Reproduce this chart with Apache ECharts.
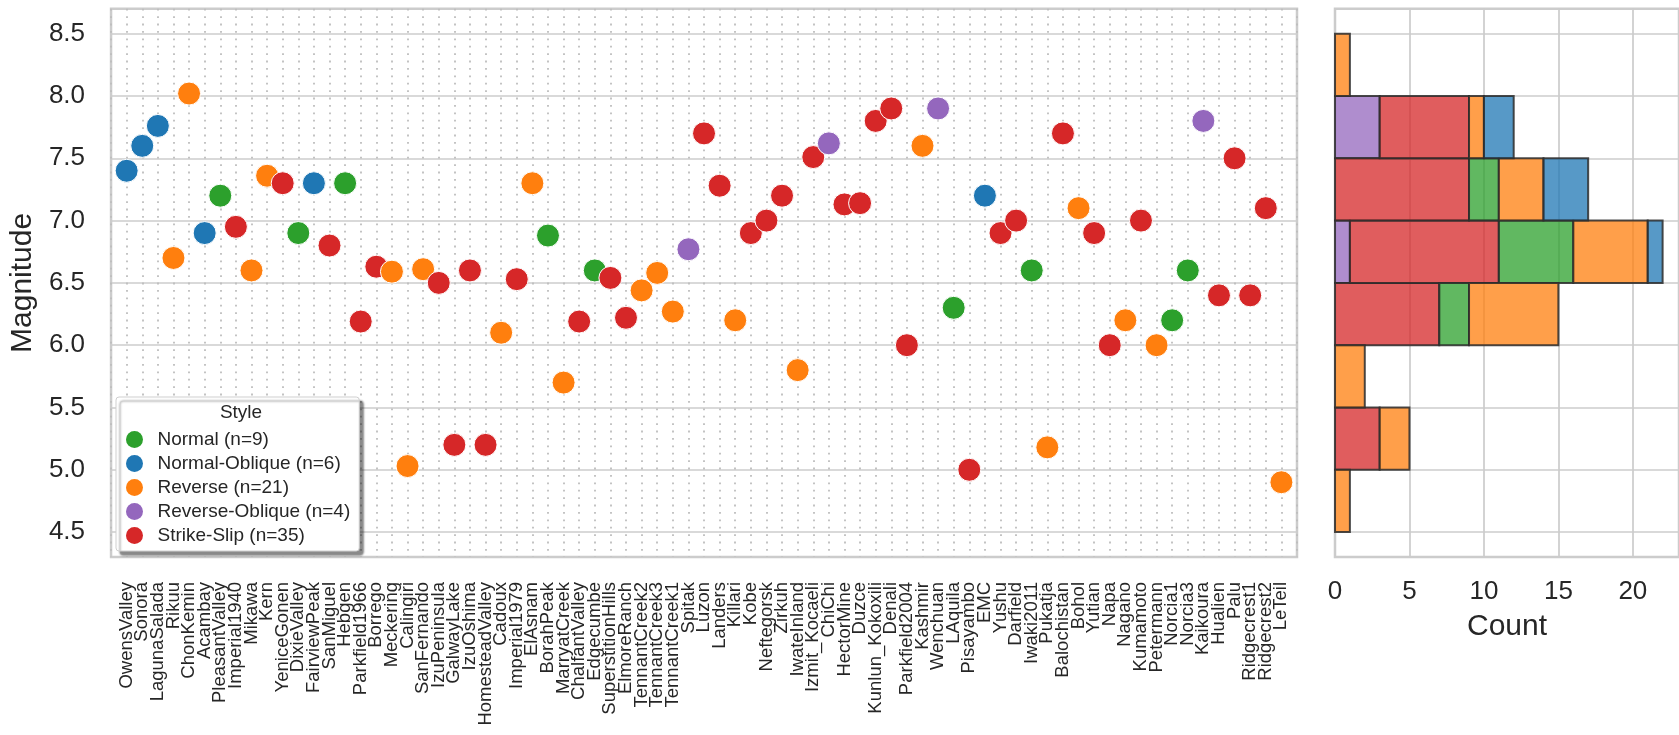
<!DOCTYPE html>
<html>
<head>
<meta charset="utf-8">
<script src="https://cdn.jsdelivr.net/npm/echarts@6/dist/echarts.min.js"></script>
<style>
  html, body { margin: 0; padding: 0; background: #ffffff; }
  #chart { width: 1679px; height: 735px; }
</style>
</head>
<body>
<div id="chart"></div>
<script>
// Earthquake events, in plotting order along the x axis
const quakeNames = [
  'OwensValley', 'Sonora', 'LagunaSalada', 'Rikuu', 'ChonKemin', 'Acambay', 'PleasantValley',
  'Imperial1940', 'Mikawa', 'Kern', 'YeniceGonen', 'DixieValley', 'FairviewPeak', 'SanMiguel',
  'Hebgen', 'Parkfield1966', 'Borrego', 'Meckering', 'Calingiri', 'SanFernando', 'IzuPeninsula',
  'GalwayLake', 'IzuOshima', 'HomesteadValley', 'Cadoux', 'Imperial1979', 'ElAsnam', 'BorahPeak',
  'MarryatCreek', 'ChalfantValley', 'Edgecumbe', 'SuperstitionHills', 'ElmoreRanch',
  'TennantCreek2', 'TennantCreek3', 'TennantCreek1', 'Spitak', 'Luzon', 'Landers', 'Killari',
  'Kobe', 'Neftegorsk', 'Zirkuh', 'IwateInland', 'Izmit_Kocaeli', 'ChiChi', 'HectorMine', 'Duzce',
  'Kunlun_Kokoxili', 'Denali', 'Parkfield2004', 'Kashmir', 'Wenchuan', 'LAquila', 'Pisayambo',
  'EMC', 'Yushu', 'Darfield', 'Iwaki2011', 'Pukatja', 'Balochistan', 'Bohol', 'Yutian', 'Napa',
  'Nagano', 'Kumamoto', 'Petermann', 'Norcia1', 'Norcia3', 'Kaikoura', 'Hualien', 'Palu',
  'Ridgecrest1', 'Ridgecrest2', 'LeTeil'
];

// Moment magnitude of each event
const magnitudes = [
  7.40, 7.60, 7.76, 6.70, 8.02, 6.90, 7.20,
  6.95, 6.60, 7.36, 7.30, 6.90, 7.30, 6.80,
  7.30, 6.19, 6.63, 6.59, 5.03, 6.61, 6.50,
  5.20, 6.60, 5.20, 6.10, 6.53, 7.30, 6.88,
  5.70, 6.19, 6.60, 6.54, 6.22,
  6.44, 6.58, 6.27, 6.77, 7.70, 7.28, 6.20,
  6.90, 7.00, 7.20, 5.80, 7.51, 7.62, 7.13, 7.14,
  7.80, 7.90, 6.00, 7.60, 7.90, 6.30, 5.00,
  7.20, 6.90, 7.00, 6.60, 5.18, 7.70, 7.10, 6.90, 6.00,
  6.20, 7.00, 6.00, 6.20, 6.60, 7.80, 6.40, 7.50,
  6.40, 7.10, 4.90
];

// Faulting style of each event
const N = 'Normal', NO = 'Normal-Oblique', R = 'Reverse', RO = 'Reverse-Oblique', SS = 'Strike-Slip';
const faultStyles = [
  NO, NO, NO, R, R, NO, N,
  SS, R, R, SS, N, NO, SS,
  N, SS, SS, R, R, R, SS,
  SS, SS, SS, R, SS, R, N,
  R, SS, N, SS, SS,
  R, R, R, RO, SS, SS, R,
  SS, SS, SS, R, SS, RO, SS, SS,
  SS, SS, SS, R, RO, N, SS,
  NO, SS, SS, N, R, SS, R, SS, SS,
  R, SS, R, N, N, RO, SS, SS,
  SS, SS, R
];

// Legend order and colours
const styleOrder = [N, NO, R, RO, SS];
const styleColors = {
  'Normal': '#2ca02c',
  'Normal-Oblique': '#1f77b4',
  'Reverse': '#ff7f0e',
  'Reverse-Oblique': '#9467bd',
  'Strike-Slip': '#d62728'
};

// Histogram: bin edges and stacking order (from the axis outward)
const binEdges = [4.5, 5.0, 5.5, 6.0, 6.5, 7.0, 7.5, 8.0, 8.5];
const stackOrder = [RO, SS, N, R, NO];

const FONT = '"Liberation Sans", Arial, sans-serif';
const INK = '#262626';
const GRID_GRAY = '#cccccc';

function withAlpha(hex, a) {
  const n = parseInt(hex.slice(1), 16);
  return 'rgba(' + (n >> 16 & 255) + ',' + (n >> 8 & 255) + ',' + (n & 255) + ',' + a + ')';
}

const styleCounts = {};
styleOrder.forEach(s => { styleCounts[s] = faultStyles.filter(f => f === s).length; });
const legendLabel = s => s + ' (n=' + styleCounts[s] + ')';

// Count events per bin for each style ([lo, hi) bins, last bin closed)
const nBins = binEdges.length - 1;
function binIndex(v) {
  for (let b = 0; b < nBins; b++) {
    const last = b === nBins - 1;
    if (v >= binEdges[b] && (v < binEdges[b + 1] || (last && v <= binEdges[b + 1]))) return b;
  }
  return -1;
}
const binCounts = {};
styleOrder.forEach(s => { binCounts[s] = new Array(nBins).fill(0); });
magnitudes.forEach((m, i) => {
  const b = binIndex(m);
  if (b >= 0) binCounts[faultStyles[i]][b] += 1;
});

// Stacked segments: [binLow, binHigh, countStart, countEnd]
const stackBase = new Array(nBins).fill(0);
const histSeries = stackOrder.map(s => {
  const segs = [];
  for (let b = 0; b < nBins; b++) {
    const c = binCounts[s][b];
    if (c > 0) {
      segs.push([binEdges[b], binEdges[b + 1], stackBase[b], stackBase[b] + c]);
      stackBase[b] += c;
    }
  }
  const fill = withAlpha(styleColors[s], 0.75);
  return {
    type: 'custom',
    name: 'hist-' + s,
    xAxisIndex: 1,
    yAxisIndex: 1,
    data: segs,
    encode: { x: [2, 3], y: [0, 1] },
    z: 3,
    renderItem: function (params, api) {
      const p0 = api.coord([api.value(2), api.value(0)]);
      const p1 = api.coord([api.value(3), api.value(1)]);
      return {
        type: 'rect',
        shape: { x: p0[0], y: p1[1], width: p1[0] - p0[0], height: p0[1] - p1[1] },
        style: { fill: fill, stroke: 'rgba(45,45,45,0.85)', lineWidth: 2 }
      };
    }
  };
});

// All points in one series so later events draw on top of earlier ones
const pointData = magnitudes.map((m, i) => ({
  value: [i, m],
  itemStyle: { color: styleColors[faultStyles[i]] }
}));

// Legend-only entries, one per style
const legendSeries = styleOrder.map(s => ({
  type: 'scatter',
  name: legendLabel(s),
  xAxisIndex: 0,
  yAxisIndex: 0,
  data: [],
  symbol: 'circle',
  itemStyle: { color: styleColors[s], opacity: 1 }
}));

const halfStep = v => Math.abs(v * 2 - Math.round(v * 2)) < 1e-6;

const chart = echarts.init(document.getElementById('chart'), null, { renderer: 'canvas' });
chart.setOption({
  backgroundColor: '#ffffff',
  animation: false,
  textStyle: { fontFamily: FONT },
  grid: [
    { left: 107, right: 382, top: 8.8, bottom: 178, show: true, borderColor: GRID_GRAY, borderWidth: 2.5, backgroundColor: 'transparent' },
    { left: 1335, right: -2.5, top: 8.8, bottom: 178, show: true, borderColor: GRID_GRAY, borderWidth: 2.5, backgroundColor: 'transparent' }
  ],
  xAxis: [
    {
      type: 'value', gridIndex: 0, min: -1, max: 75, interval: 1,
      axisLine: { show: false }, axisTick: { show: false },
      splitLine: { show: true, lineStyle: { color: '#bdbdbd', width: 1.8, type: [1.8, 5.6] } },
      axisLabel: {
        rotate: 90, margin: 25, fontSize: 18.5, color: INK, fontFamily: FONT,
        formatter: v => (v >= 0 && v < quakeNames.length) ? quakeNames[v] : ''
      }
    },
    {
      type: 'value', gridIndex: 1, min: 0, max: 23.1, interval: 5,
      name: 'Count', nameLocation: 'middle', nameGap: 55,
      nameTextStyle: { fontSize: 30, color: INK, fontFamily: FONT },
      axisLine: { show: false }, axisTick: { show: false },
      splitLine: { show: true, lineStyle: { color: GRID_GRAY, width: 1.7 } },
      axisLabel: { margin: 22, fontSize: 26, color: INK, fontFamily: FONT, showMaxLabel: false,
        formatter: v => (v % 5 === 0 ? String(v) : '') }
    }
  ],
  yAxis: [
    {
      type: 'value', gridIndex: 0, min: 4.3, max: 8.7, splitNumber: 9,
      name: 'Magnitude', nameLocation: 'middle', nameGap: 72,
      nameTextStyle: { fontSize: 30, color: INK, fontFamily: FONT },
      axisLine: { show: false }, axisTick: { show: false },
      splitLine: { show: true, lineStyle: { color: GRID_GRAY, width: 1.7 } },
      axisLabel: { margin: 26, fontSize: 26, color: INK, fontFamily: FONT,
        showMinLabel: false, showMaxLabel: false,
        formatter: v => (halfStep(v) ? v.toFixed(1) : '') }
    },
    {
      type: 'value', gridIndex: 1, min: 4.3, max: 8.7, splitNumber: 9,
      axisLine: { show: false }, axisTick: { show: false },
      splitLine: { show: true, lineStyle: { color: GRID_GRAY, width: 1.7 } },
      axisLabel: { show: false }
    }
  ],
  legend: {
    orient: 'vertical', left: 116, top: 397,
    padding: [33, 9, 6, 10],
    itemWidth: 36, itemHeight: 17, itemGap: 5,
    icon: 'circle',
    itemStyle: { opacity: 1, borderWidth: 0 },
    backgroundColor: '#ffffff', borderColor: '#cfcfcf', borderWidth: 1, borderRadius: 3,
    shadowColor: 'rgba(0,0,0,0.45)', shadowBlur: 2, shadowOffsetX: 4, shadowOffsetY: 4,
    textStyle: { fontSize: 19, lineHeight: 19, color: INK, fontFamily: FONT },
    selectedMode: false,
    data: styleOrder.map(legendLabel)
  },
  graphic: [
    { type: 'text', x: 241, y: 413, z: 100, zlevel: 0,
      style: { text: 'Style', fontSize: 19, fontFamily: FONT, fill: INK, textAlign: 'center', textVerticalAlign: 'middle' } }
  ],
  series: [
    {
      type: 'scatter',
      name: 'events',
      xAxisIndex: 0, yAxisIndex: 0,
      symbol: 'circle', symbolSize: 23,
      itemStyle: { borderColor: '#ffffff', borderWidth: 1, opacity: 1 },
      data: pointData,
      z: 3
    }
  ].concat(legendSeries, histSeries)
});
</script>
</body>
</html>
